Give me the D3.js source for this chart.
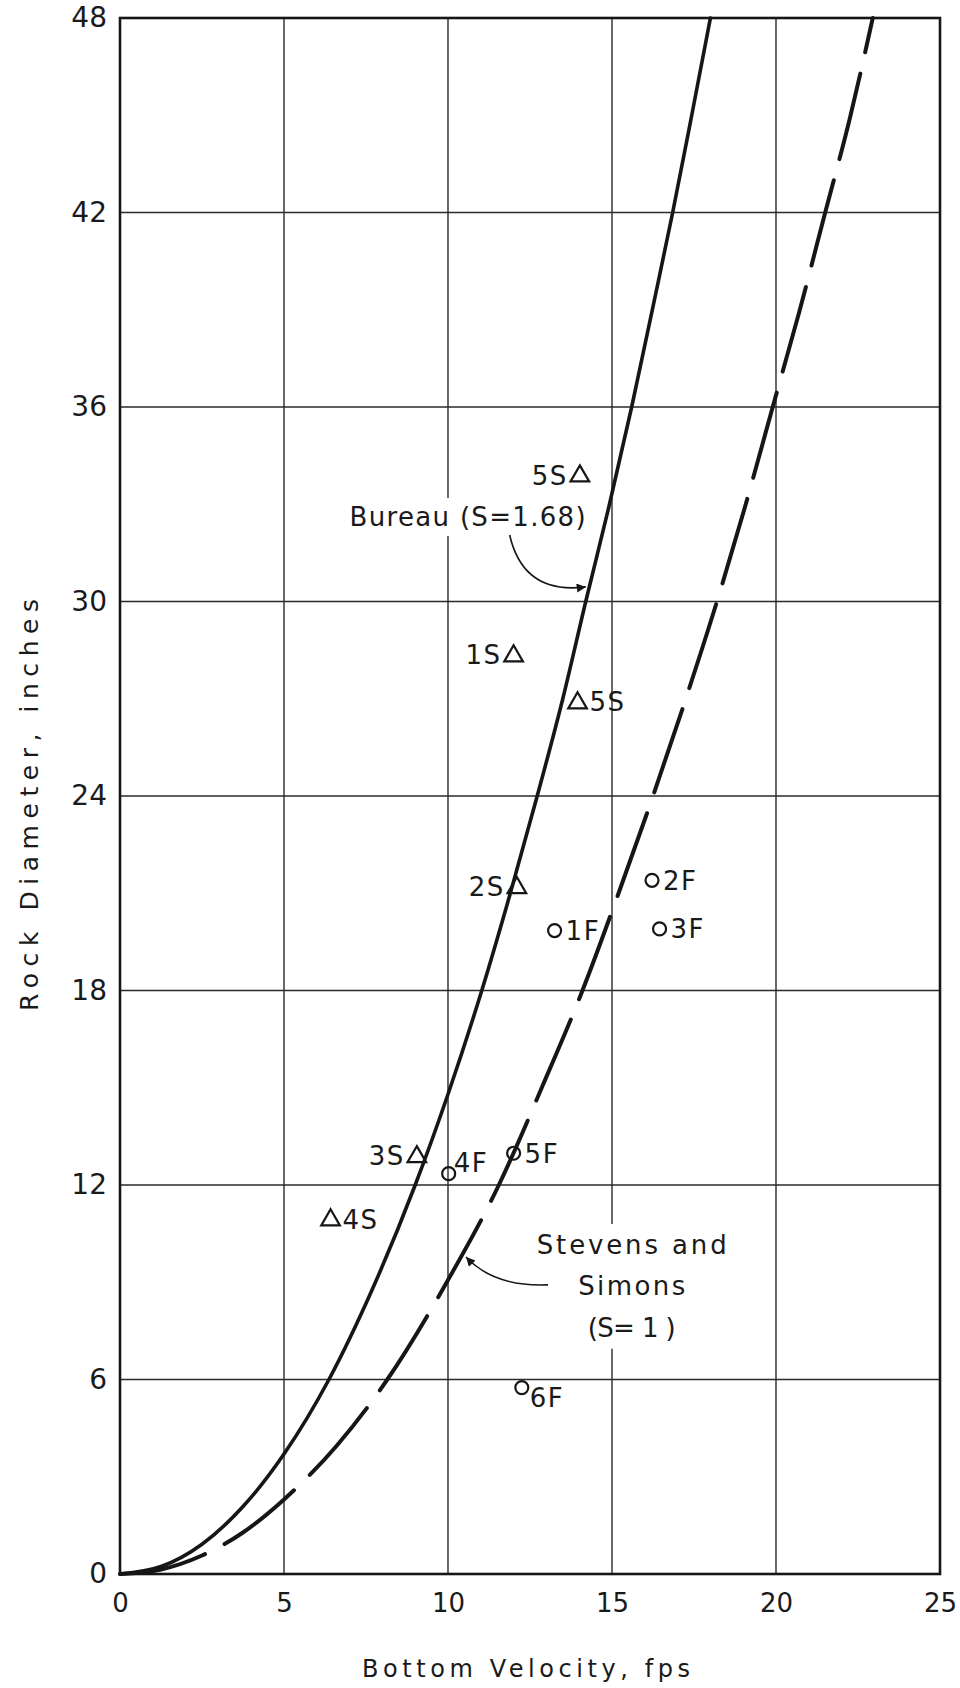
<!DOCTYPE html>
<html>
<head>
<meta charset="utf-8">
<script src="https://cdn.jsdelivr.net/npm/d3@7"></script>
<style>
  html, body { margin: 0; padding: 0; background: #fff; }
  svg { display: block; }
  text { font-family: "DejaVu Sans", "Liberation Sans", sans-serif; fill: #1a1a1a; }
</style>
</head>
<body>
<svg id="chart" width="960" height="1688"></svg>
<script>
// ---- Data ----
const xTicks = [0, 5, 10, 15, 20, 25];
const yTicks = [0, 6, 12, 18, 24, 30, 36, 42, 48];

// Bureau (S=1.68) curve, solid
const bureauV = [0, 1.25, 2.5, 3.75, 5, 6.37, 7.7, 9.0, 10.0, 11.03, 11.9, 12.72, 13.5, 14.2, 14.9, 15.6, 16.25, 16.85, 17.45, 18.0];
const bureauD = [0, 0.23, 0.92, 2.08, 3.7, 6, 8.8, 12, 14.8, 18, 21, 24, 27, 30, 32.9, 36, 39.1, 42, 45.1, 48];

// Stevens and Simons (S=1) curve, dashed
const stevensV = [0, 1.25, 2.5, 3.75, 5, 6.6, 8.15, 10.0, 11.55, 12.9, 14.1, 15.2, 16.25, 17.25, 18.2, 19.05, 19.9, 20.7, 21.5, 22.25, 22.95];
const stevensD = [0, 0.14, 0.57, 1.28, 2.3, 3.95, 6, 9.07, 12, 15.1, 18, 21, 24, 27, 30, 32.9, 36, 38.9, 42, 44.9, 48];

// Observed points: triangles (S) and circles (F)
const triLabels = ["5S", "1S", "5S", "2S", "3S", "4S"];
const triV      = [14.02, 12.0, 13.95, 12.1, 9.05, 6.42];
const triD      = [33.9, 28.35, 26.9, 21.2, 12.9, 10.95];
const triSide   = ["left", "left", "right", "left", "left", "right"];

const cirLabels = ["1F", "2F", "3F", "4F", "5F", "6F"];
const cirV      = [13.25, 16.22, 16.45, 10.02, 12.0, 12.25];
const cirD      = [19.85, 21.4, 19.9, 12.35, 12.98, 5.75];
const cirSide   = ["right", "right", "right", "upright", "right", "lowright"];

// Annotation texts
const bureauText = "Bureau (S=1.68)";
const stevensText = ["Stevens and", "Simons", "(S= 1 )"];

// ---- Layout ----
const svg = d3.select("#chart");
const mL = 120, mR = 940, mT = 18, mB = 1574;
const x = d3.scaleLinear().domain([0, 25]).range([mL, mR]);
const y = d3.scaleLinear().domain([0, 48]).range([mB, mT]);
const ink = "#161616";

// Grid lines
const grid = svg.append("g");
grid.selectAll("line.v").data(xTicks.slice(1, -1)).join("line")
  .attr("x1", d => x(d)).attr("x2", d => x(d))
  .attr("y1", mT).attr("y2", mB)
  .attr("stroke", "#2a2a2a").attr("stroke-width", 1.4);
grid.selectAll("line.h").data(yTicks.slice(1, -1)).join("line")
  .attr("y1", d => y(d)).attr("y2", d => y(d))
  .attr("x1", mL).attr("x2", mR)
  .attr("stroke", "#2a2a2a").attr("stroke-width", 1.4);

// White patches behind annotation text (gridlines are broken there in the reference)
const patches = svg.append("g");

// Axes (labels only)
const xAxis = svg.append("g").attr("transform", `translate(0,${mB})`)
  .call(d3.axisBottom(x).tickValues(xTicks).tickSize(0).tickPadding(20).tickFormat(d3.format("d")));
xAxis.select(".domain").remove();
xAxis.selectAll("text").attr("font-size", 26).attr("font-family", "DejaVu Sans").attr("fill", ink);

const yAxis = svg.append("g").attr("transform", `translate(${mL},0)`)
  .call(d3.axisLeft(y).tickValues(yTicks).tickSize(0).tickPadding(13).tickFormat(d3.format("d")));
yAxis.select(".domain").remove();
yAxis.selectAll("text").attr("font-size", 28).attr("font-family", "DejaVu Sans").attr("fill", ink);

// Axis titles
svg.append("text")
  .attr("x", 526).attr("y", 1677)
  .attr("text-anchor", "middle")
  .attr("font-size", 24)
  .attr("textLength", 328).attr("lengthAdjust", "spacing")
  .text("Bottom Velocity, fps");

svg.append("text")
  .attr("transform", "translate(38,805) rotate(-90)")
  .attr("text-anchor", "middle")
  .attr("font-size", 25)
  .attr("textLength", 412).attr("lengthAdjust", "spacing")
  .text("Rock Diameter, inches");

// Curves
const line = d3.line().x(d => x(d[0])).y(d => y(d[1])).curve(d3.curveMonotoneX);
svg.append("path")
  .datum(d3.zip(bureauV, bureauD))
  .attr("d", line).attr("fill", "none")
  .attr("stroke", ink).attr("stroke-width", 3.6).attr("stroke-linecap", "round");
svg.append("path")
  .datum(d3.zip(stevensV, stevensD))
  .attr("d", line).attr("fill", "none")
  .attr("stroke", ink).attr("stroke-width", 4).attr("stroke-linecap", "round")
  .attr("stroke-dasharray", "88 22");

// Frame
svg.append("rect")
  .attr("x", mL).attr("y", mT).attr("width", mR - mL).attr("height", mB - mT)
  .attr("fill", "none").attr("stroke", ink).attr("stroke-width", 2.6);

// Triangles
const tri = d3.symbol().type(d3.symbolTriangle).size(150);
const triG = svg.append("g");
triV.forEach((v, i) => {
  const cx = x(v), cy = y(triD[i]);
  triG.append("path").attr("d", tri).attr("transform", `translate(${cx},${cy + 1})`)
    .attr("fill", "none").attr("stroke", ink).attr("stroke-width", 2.2);
  const t = triG.append("text").attr("font-size", 26).attr("letter-spacing", 1.5)
    .attr("y", cy + 9.5).text(triLabels[i]);
  if (triSide[i] === "left") t.attr("x", cx - 12).attr("text-anchor", "end");
  else t.attr("x", cx + 12).attr("text-anchor", "start");
});

// Circles
const cirG = svg.append("g");
cirV.forEach((v, i) => {
  const cx = x(v), cy = y(cirD[i]);
  cirG.append("circle").attr("cx", cx).attr("cy", cy).attr("r", 6.5)
    .attr("fill", "none").attr("stroke", ink).attr("stroke-width", 2.2);
  const t = cirG.append("text").attr("font-size", 26).attr("letter-spacing", 1.5).text(cirLabels[i]);
  if (cirSide[i] === "right") t.attr("x", cx + 11).attr("y", cy + 9.5);
  else if (cirSide[i] === "upright") t.attr("x", cx + 5).attr("y", cy - 2);
  else t.attr("x", cx + 8).attr("y", cy + 19);
});

// Arrowhead marker
svg.append("defs").append("marker")
  .attr("id", "arrow").attr("viewBox", "0 0 10 10")
  .attr("refX", 10).attr("refY", 5)
  .attr("markerWidth", 18).attr("markerHeight", 9)
  .attr("markerUnits", "userSpaceOnUse")
  .attr("orient", "auto")
  .append("path").attr("d", "M0,0 L10,5 L0,10 Z").attr("fill", ink);

// Bureau annotation
const bt = svg.append("text")
  .attr("x", x(7.0)).attr("y", y(32.33))
  .attr("font-size", 26)
  .attr("textLength", 236).attr("lengthAdjust", "spacing")
  .text(bureauText);
{
  const b = bt.node().getBBox();
  patches.append("rect").attr("x", b.x - 4).attr("y", b.y - 4).attr("width", b.width + 8).attr("height", b.height + 8).attr("fill", "#fff");
}
const ax0 = [11.88, 32.05], ax1 = [14.2, 30.45], axc = [12.3, 30.2];
svg.append("path")
  .attr("d", `M${x(ax0[0])},${y(ax0[1])} Q${x(axc[0])},${y(axc[1])} ${x(ax1[0])},${y(ax1[1])}`)
  .attr("fill", "none").attr("stroke", ink).attr("stroke-width", 1.6)
  .attr("marker-end", "url(#arrow)");

// Stevens and Simons annotation
const sBase = [9.87, 8.62, 7.32];
const sLen = [190, 107, 88];
const sg = svg.append("g");
stevensText.forEach((s, i) => {
  sg.append("text")
    .attr("x", x(15.6)).attr("y", y(sBase[i]))
    .attr("text-anchor", "middle")
    .attr("font-size", 26)
    .attr("textLength", sLen[i]).attr("lengthAdjust", "spacing")
    .text(s);
});
{
  const b = sg.node().getBBox();
  patches.append("rect").attr("x", b.x - 6).attr("y", b.y - 6).attr("width", b.width + 12).attr("height", b.height + 12).attr("fill", "#fff");
}
const sx0 = [13.05, 8.92], sx1 = [10.55, 9.78], sxc = [11.4, 8.85];
svg.append("path")
  .attr("d", `M${x(sx0[0])},${y(sx0[1])} Q${x(sxc[0])},${y(sxc[1])} ${x(sx1[0])},${y(sx1[1])}`)
  .attr("fill", "none").attr("stroke", ink).attr("stroke-width", 1.6)
  .attr("marker-end", "url(#arrow)");
</script>
</body>
</html>
